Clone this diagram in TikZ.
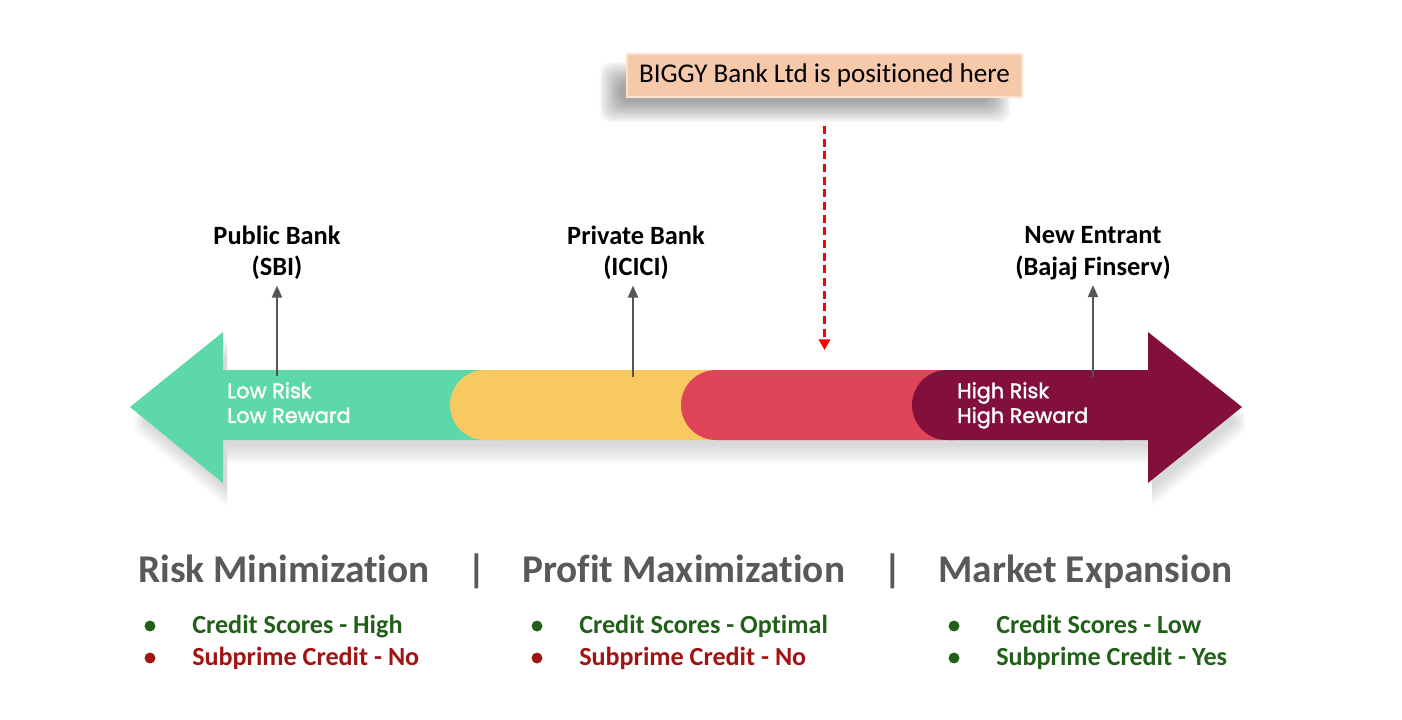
\documentclass[tikz,border=0pt]{standalone}
\usepackage{fontspec}
\setmainfont{Carlito}[Ligatures=NoCommon]
\newfontfamily\barfont{Poppins}[FakeBold=1.6]
\usetikzlibrary{arrows.meta, positioning}
\definecolor{Peach}{HTML}{F6C9AA}
\definecolor{PeachEdge}{HTML}{FBE2D0}
\definecolor{LowGreen}{HTML}{5DD9A9}
\definecolor{MidYellow}{HTML}{F8C960}
\definecolor{MidRed}{HTML}{E04458}
\definecolor{HighMaroon}{HTML}{83103B}
\definecolor{PointerGray}{HTML}{555555}
\definecolor{HeadGray}{HTML}{595959}
\definecolor{OkGreen}{HTML}{22601A}
\definecolor{NoRed}{HTML}{A11414}
\tikzset{
  callout/.style={rectangle, fill=Peach, draw=PeachEdge, line width=1.5pt,
                  minimum width=296pt, minimum height=32pt, inner sep=0pt,
                  font=\fontsize{20.3pt}{24pt}\selectfont},
  marker/.style={draw=red, line width=2.4pt, dash pattern=on 6pt off 3.5pt,
                 -{Triangle[length=8pt, width=8.5pt]}},
  pointer/.style={draw=PointerGray, line width=1.5pt,
                  -{Triangle[length=9pt, width=7.5pt]}},
  bankLbl/.style={align=center, inner sep=1pt,
                  font=\bfseries\fontsize{19.8pt}{23.5pt}\selectfont},
  riskTxt/.style={align=left, inner sep=0pt, text=white,
                  font=\barfont\fontsize{15.6pt}{18.6pt}\selectfont},
  headTxt/.style={inner sep=0pt, text=HeadGray,
                  font=\bfseries\fontsize{29.5pt}{34pt}\selectfont},
  itemTxt/.style={inner sep=0pt, font=\bfseries\fontsize{19.6pt}{23pt}\selectfont},
  dot/.style={circle, inner sep=0pt, minimum size=8.2pt},
}
\begin{document}
\begin{tikzpicture}[x=0.75pt, y=-0.75pt]
    \useasboundingbox (0,0) rectangle (1402,719);
    %% soft shadows
    \foreach \k in {0,...,17}
      \fill[black, opacity=0.024, rounded corners=8pt]
        ({620-1.2*\k},{82-1.2*\k}) rectangle ({990+1.2*\k},{102+1.2*\k});
    \foreach \k in {0,...,7}
      \fill[black, opacity=0.018, shift={(4,{6+2.5*\k})}]
        (130,407) -- (223,332) -- (223,370) -- (1148,370) -- (1148,332)
        -- (1242,407) -- (1148,483) -- (1148,440) -- (223,440) -- (223,483) -- cycle;
    %% the risk scale
    \fill[LowGreen] (130,407) -- (223,332) -- (223,370) -- (500,370)
      -- (500,440) -- (223,440) -- (223,483) -- cycle;
    \fill[MidYellow, rounded corners=26.25pt] (450,370) rectangle (760,440);
    \fill[MidRed, rounded corners=26.25pt] (681,370) rectangle (990,440);
    \fill[HighMaroon, rounded corners=26.25pt] (912,370) rectangle (1160,440);
    \fill[HighMaroon] (1100,370) -- (1148,370) -- (1148,332) -- (1242,407)
      -- (1148,483) -- (1148,440) -- (1100,440) -- cycle;
    \node[riskTxt, anchor=north west] (lowTxt) at (227,382) {Low Risk\\Low Reward};
    \node[riskTxt, anchor=north west] (highTxt) at (957,382) {High Risk\\High Reward};
    %% banks
    \node[bankLbl] (pubLbl) at (277,253) {Public Bank\\(SBI)};
    \node[bankLbl] (privLbl) at (636,253) {Private Bank\\(ICICI)};
    \node[bankLbl] (newLbl) at (1093,253) {New Entrant\\(Bajaj Finserv)};
    \coordinate (pubPt) at (277,376);
    \coordinate (privPt) at (633,377);
    \coordinate (newPt) at (1093,377);
    \draw[pointer, shorten >=3pt] (pubPt) -- (pubLbl.south -| pubPt);
    \draw[pointer, shorten >=3pt] (privPt) -- (privLbl.south -| privPt);
    \draw[pointer, shorten >=3pt] (newPt) -- (newLbl.south -| newPt);
    %% where BIGGY sits
    \node[callout] (biggy) at (824.5,75.5) {BIGGY Bank Ltd is positioned here};
    \coordinate (spot) at (824.5,350);
    \draw[marker, shorten <=21pt] (biggy.south) -- (spot);
    %% strategies
    \node[headTxt, anchor=base west] (riskHd) at (138,582) {Risk Minimization};
    \node[headTxt, anchor=base] (sepA) at (477,582) {|};
    \node[headTxt, anchor=base west] (profHd) at (522,582) {Profit Maximization};
    \node[headTxt, anchor=base] (sepB) at (893,582) {|};
    \node[headTxt, anchor=base west] (mktHd) at (938,582) {Market Expansion};
    \foreach \bx/\ca/\cb/\ta/\tb [count=\i] in
        {150/OkGreen/NoRed/High/No, 537/OkGreen/NoRed/Optimal/No,
         954/OkGreen/OkGreen/Low/Yes} {
      \node[dot, fill=\ca] (dotA\i) at (\bx,626) {};
      \node[dot, fill=\cb] (dotB\i) at (\bx,658) {};
      \node[itemTxt, text=\ca, anchor=base west] (itemA\i) at ({\bx+42},633.5)
        {Credit Scores - \ta};
      \node[itemTxt, text=\cb, anchor=base west] (itemB\i) at ({\bx+42},665.5)
        {Subprime Credit - \tb};
    }
\end{tikzpicture}
\end{document}
